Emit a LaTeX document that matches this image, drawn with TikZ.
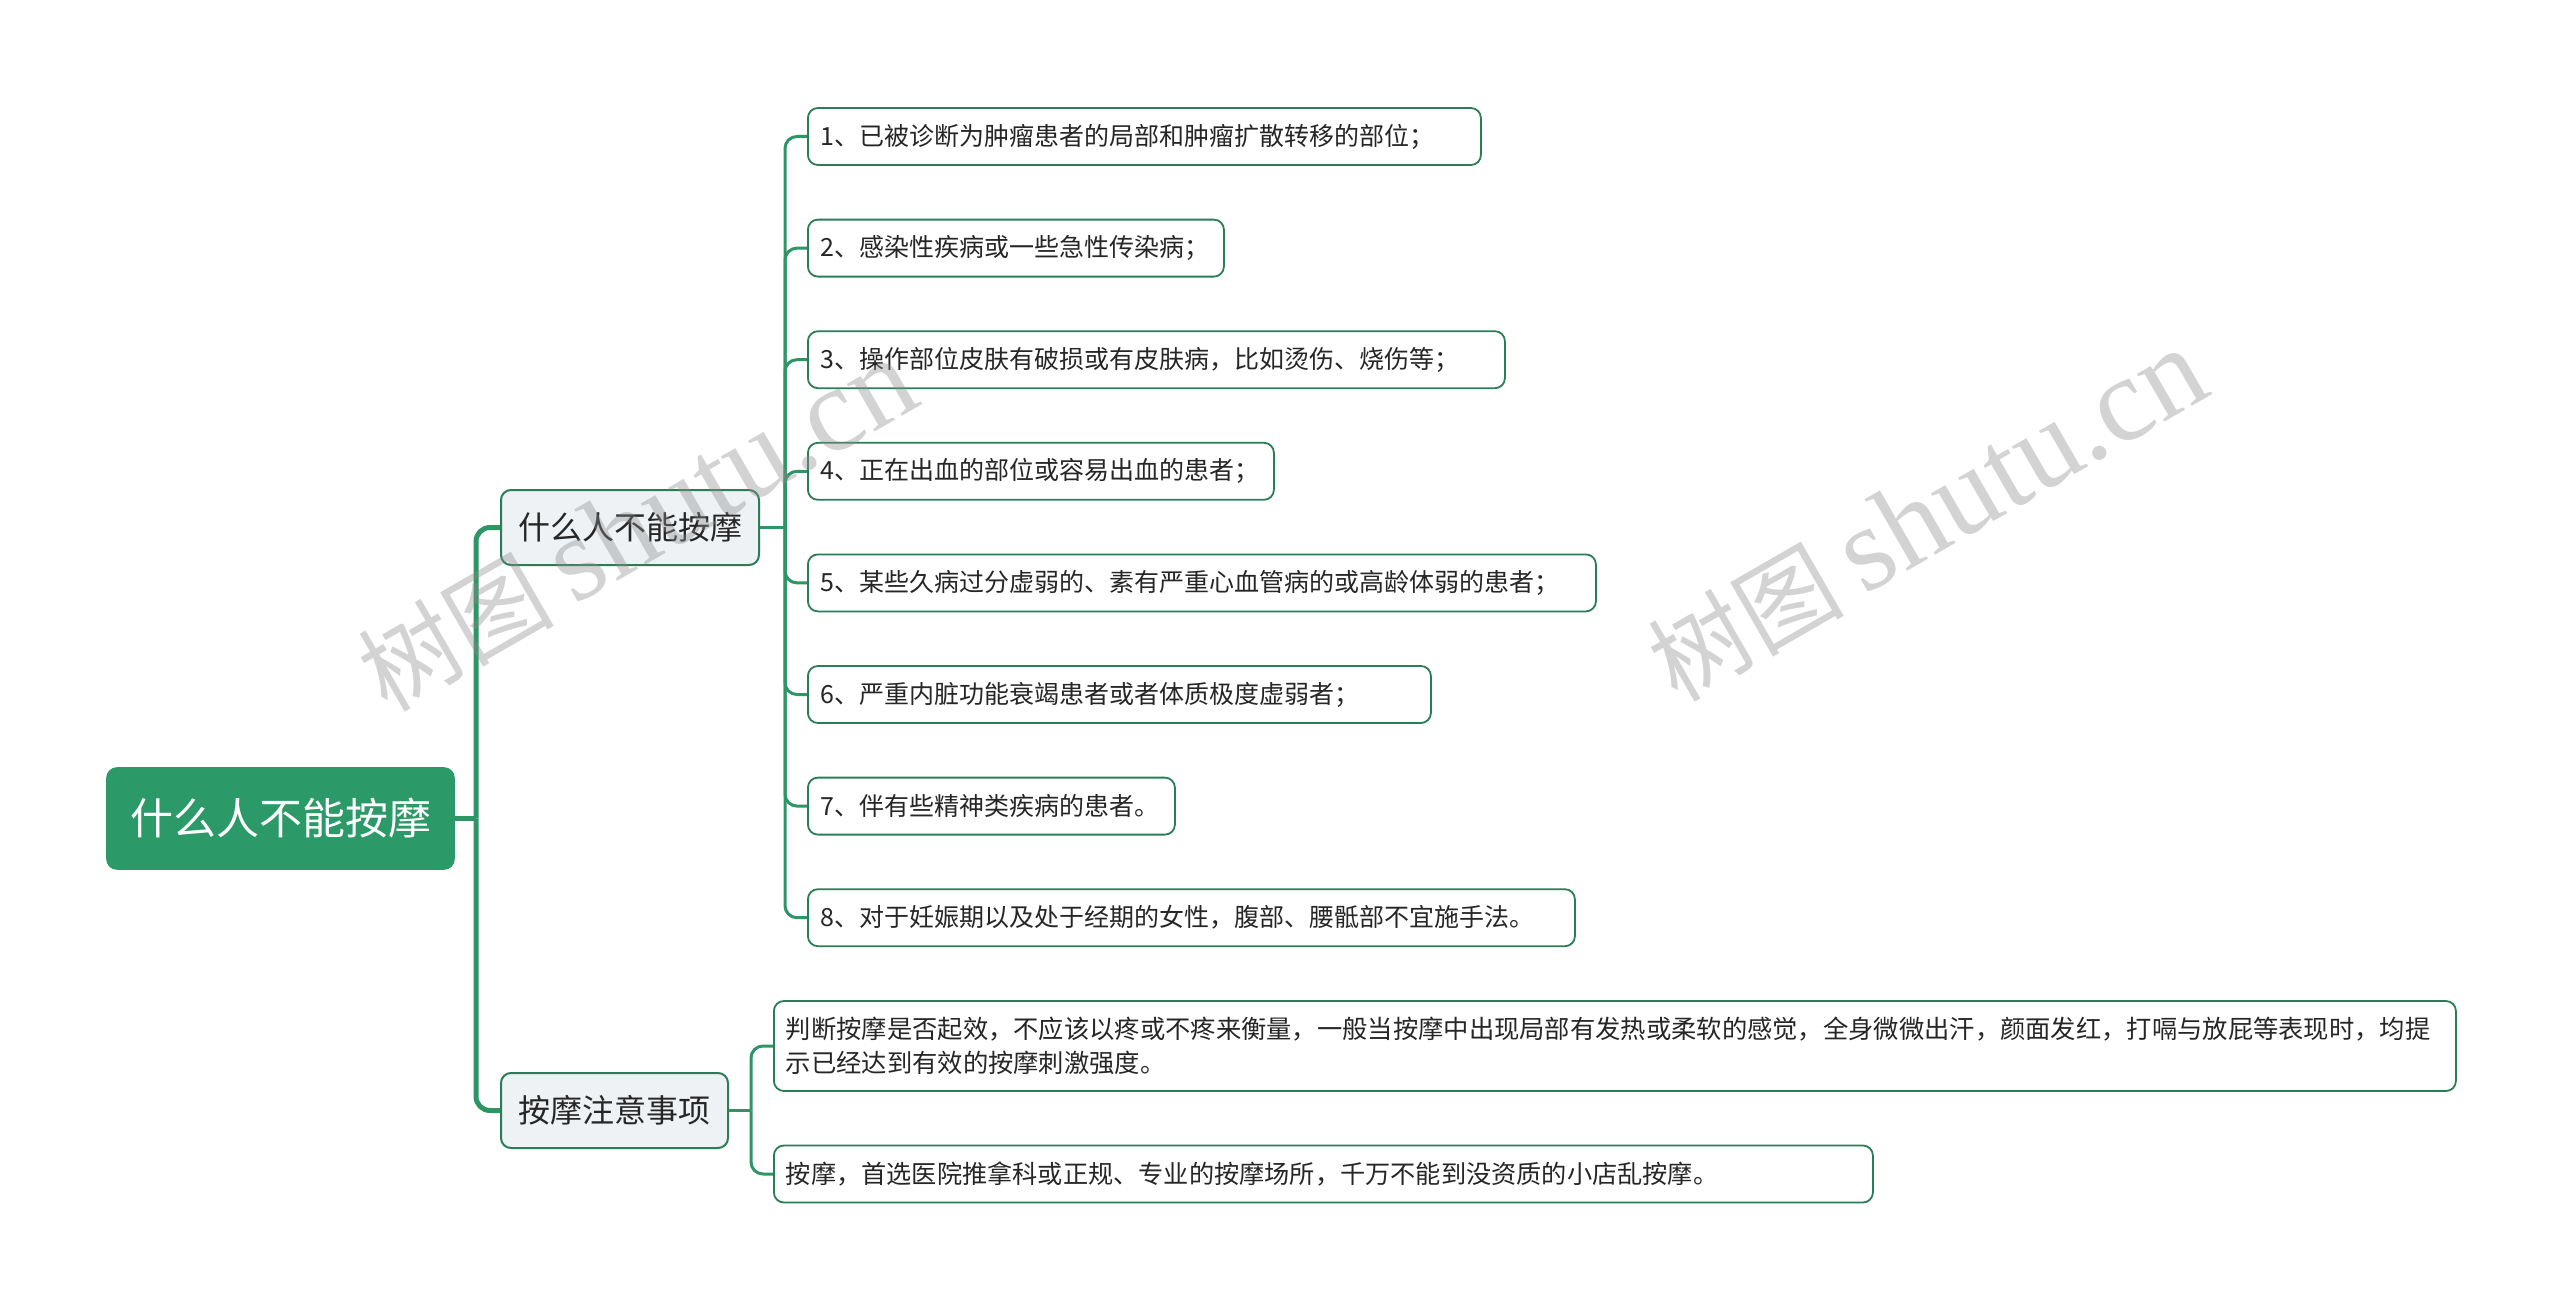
\documentclass[tikz,border=0pt]{standalone}
\usepackage{fontspec}
\setmainfont{Noto Sans CJK SC}
\newfontfamily\cjkfont{Noto Sans CJK SC}
\newfontfamily\wmserif{Liberation Serif}
\definecolor{rootgreen}{HTML}{2B9A68}
\definecolor{linegreen}{HTML}{2E9567}
\definecolor{boxborder}{HTML}{2A7E57}
\definecolor{midfill}{HTML}{EEF2F5}
\definecolor{txt}{HTML}{262626}
\begin{document}
\begin{tikzpicture}[x=0.5pt,y=-0.5pt,
  rootbox/.style={draw=rootgreen, fill=rootgreen, rounded corners=5pt, line width=0.8pt,
    text=white, font=\fontsize{21.5}{25}\selectfont, inner sep=0pt,
    minimum width=173.5pt, minimum height=50.5pt},
  midbox/.style={draw=boxborder, fill=midfill, rounded corners=5pt, line width=1pt,
    text=txt, font=\fontsize{16}{19}\selectfont, inner sep=0pt, minimum height=37.5pt},
  leafbox/.style={draw=boxborder, fill=white, rounded corners=5pt, line width=0.9pt,
    text=txt, font=\fontsize{12.5}{17}\selectfont, inner xsep=6.5pt, inner ysep=0pt,
    minimum height=28.5pt, align=left, anchor=west},
  thick conn/.style={draw=linegreen, line width=2.5pt, rounded corners=7pt},
  thin conn/.style={draw=linegreen, line width=1.5pt, rounded corners=6pt},
  watermark/.style={text=black!45, opacity=0.38, rotate=30, inner sep=0pt}]
\useasboundingbox (0,0) rectangle (2560,1311);
\fill[white] (0,0) rectangle (2560,1311);

% root
\node[rootbox] (root) at (280.5,818.5) {什么人不能按摩};

% level 1
\node[midbox, minimum width=129pt] (A) at (630,527.5) {什么人不能按摩};
\node[midbox, minimum width=113.5pt] (B) at (614.5,1110.5) {按摩注意事项};

% leaves of A
\node[leafbox, text width=323.5pt] (a1) at (807,136.5) {1、已被诊断为肿瘤患者的局部和肿瘤扩散转移的部位；};
\node[leafbox, text width=195pt] (a2) at (807,248.1) {2、感染性疾病或一些急性传染病；};
\node[leafbox, text width=335.5pt] (a3) at (807,359.7) {3、操作部位皮肤有破损或有皮肤病，比如烫伤、烧伤等；};
\node[leafbox, text width=220pt] (a4) at (807,471.3) {4、正在出血的部位或容易出血的患者；};
\node[leafbox, text width=381pt] (a5) at (807,582.9) {5、某些久病过分虚弱的、素有严重心血管病的或高龄体弱的患者；};
\node[leafbox, text width=298.5pt] (a6) at (807,694.5) {6、严重内脏功能衰竭患者或者体质极度虚弱者；};
\node[leafbox, text width=170.5pt] (a7) at (807,806.1) {7、伴有些精神类疾病的患者。};
\node[leafbox, text width=370.5pt] (a8) at (807,917.7) {8、对于妊娠期以及处于经期的女性，腹部、腰骶部不宜施手法。};

% leaves of B
\node[leafbox, text width=829pt, minimum height=45pt, inner xsep=6pt, font=\fontsize{12.65}{17}\selectfont] (b1) at (773,1046)
  {判断按摩是否起效，不应该以疼或不疼来衡量，一般当按摩中出现局部有发热或柔软的感觉，全身微微出汗，颜面发红，打嗝与放屁等表现时，均提\\示已经达到有效的按摩刺激强度。};
\node[leafbox, text width=537.5pt, inner xsep=6pt, font=\fontsize{12.6}{17}\selectfont] (b2) at (773,1174) {按摩，首选医院推拿科或正规、专业的按摩场所，千万不能到没资质的小店乱按摩。};

% connectors root -> level 1
\coordinate (jr) at (476,818.5);
\draw[thick conn] (root.east) -- (jr);
\draw[thick conn] (jr) |- (A.west);
\draw[thick conn] (jr) |- (B.west);

% connectors A -> leaves
\coordinate (ja) at (785,527.5);
\draw[thin conn] (A.east) -- (ja);
\foreach \n in {a1,a2,a3,a4,a5,a6,a7,a8}{
  \draw[thin conn] (ja) |- (\n.west);
}

% connectors B -> leaves
\coordinate (jb) at (751,1110.5);
\draw[thin conn] (B.east) -- (jb);
\draw[thin conn] (jb) |- (b1.west);
\draw[thin conn] (jb) |- (b2.west);

% watermarks
\node[watermark] (wm1) at (637,526) {\fontsize{49}{55}\cjkfont 树图\hspace{10pt}\fontsize{60}{66}\wmserif shutu.cn};
\node[watermark] (wm2) at (1927,516) {\fontsize{49}{55}\cjkfont 树图\hspace{10pt}\fontsize{60}{66}\wmserif shutu.cn};
\end{tikzpicture}
\end{document}
